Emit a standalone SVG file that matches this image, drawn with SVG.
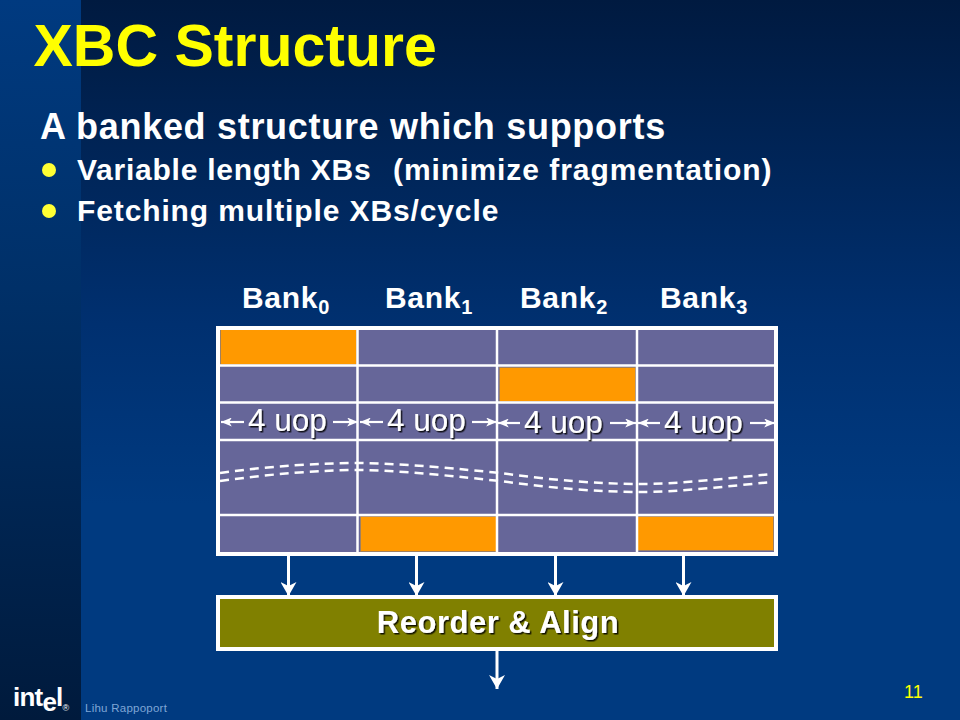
<svg xmlns="http://www.w3.org/2000/svg" width="960" height="720" viewBox="0 0 960 720">
<style>
text{font-family:"Liberation Sans",Arial,sans-serif}
.b{font-weight:bold;fill:#fff}
.cell{fill:#666699}
.org{fill:#ff9900;stroke:#a08060;stroke-width:1}
.grid{stroke:#fff;stroke-width:2.5;fill:none}
.arr{stroke:#fff;stroke-width:3;fill:none}
.thin{stroke:#fff;stroke-width:2.200;fill:none}
.dash{stroke:#fff;stroke-width:2.500;fill:none;stroke-dasharray:9 6}
.sh{filter:url(#shadow)}
.u{font-size:31.500px;fill:#fff}
.bk{font-size:30px;letter-spacing:.7px}
.bk tspan{font-size:20px}
</style>
<defs>
<linearGradient id="bg" x1="0" y1="0" x2="0" y2="1">
<stop offset="0" stop-color="#001a40"/><stop offset="0.45" stop-color="#003070"/><stop offset="0.7" stop-color="#003a80"/><stop offset="1" stop-color="#003a80"/>
</linearGradient>
<linearGradient id="side" x1="0" y1="0" x2="0" y2="1">
<stop offset="0" stop-color="#003a80"/><stop offset="0.4" stop-color="#003068"/><stop offset="1" stop-color="#001a3c"/>
</linearGradient>
<filter id="shadow" x="-10%" y="-20%" width="125%" height="150%">
<feDropShadow dx="1.5" dy="1.5" stdDeviation="0.6" flood-color="#000" flood-opacity="0.85"/>
</filter>
<marker id="ah" viewBox="0 0 14 16" refX="14" refY="8" markerWidth="14" markerHeight="16" markerUnits="userSpaceOnUse" orient="auto">
<path d="M0 0L14 8L0 16L4 8Z" fill="#fff"/>
</marker>
<marker id="as" viewBox="0 0 12 10" refX="12" refY="5" markerWidth="11" markerHeight="9" markerUnits="userSpaceOnUse" orient="auto">
<path d="M0 0L12 5L0 10L3 5Z" fill="#fff"/>
</marker>
</defs>
<rect width="960" height="720" fill="url(#bg)"/>
<rect width="81" height="720" fill="url(#side)"/>

<g id="title"><text x="33.500" y="66" font-size="59" font-weight="bold" fill="#ffff00">XBC Structure</text></g>
<g id="body">
<text class="b" x="40" y="139" font-size="36" letter-spacing=".7">A banked structure which supports</text>
<circle cx="49" cy="170" r="7" fill="#ffff33"/>
<text class="b" x="77" y="180" font-size="30" letter-spacing=".75">Variable length XBs</text>
<text class="b" x="393" y="180" font-size="30" letter-spacing=".95">(minimize fragmentation)</text>
<circle cx="49" cy="211" r="7" fill="#ffff33"/>
<text class="b" x="77" y="221" font-size="30" letter-spacing=".88">Fetching multiple XBs/cycle</text>
</g>

<g id="bank-labels">
<text class="b bk" x="242" y="308">Bank<tspan dy="6">0</tspan></text>
<text class="b bk" x="385" y="308">Bank<tspan dy="6">1</tspan></text>
<text class="b bk" x="520" y="308">Bank<tspan dy="6">2</tspan></text>
<text class="b bk" x="660" y="308">Bank<tspan dy="6">3</tspan></text>
</g>

<g id="bank-array">
<rect class="cell" x="218" y="328" width="558" height="226"/>
<rect class="org" x="220.500" y="329.500" width="136" height="35"/>
<rect class="org" x="499.500" y="367.500" width="136" height="34"/>
<rect class="org" x="360.500" y="516.500" width="136" height="35"/>
<rect class="org" x="637.500" y="516.500" width="136" height="34"/>
<path class="grid" d="M218 365.500H776M218 402.500H776M218 440H776M218 515H776M357.500 328V554M497 328V554M637 328V554"/>
<rect x="218" y="328" width="558" height="226" fill="none" stroke="#fff" stroke-width="4"/>
</g>

<g id="uop-labels">
<text class="u sh" x="248" y="431">4 uop</text>
<text class="u sh" x="387" y="431">4 uop</text>
<text class="u sh" x="524" y="433">4 uop</text>
<text class="u sh" x="664" y="433">4 uop</text>
</g>

<g id="connectors">
<path class="thin" marker-end="url(#as)" d="M244 422H221"/>
<path class="thin" marker-end="url(#as)" d="M333 422H358"/>
<path class="thin" marker-end="url(#as)" d="M383 422H360"/>
<path class="thin" marker-end="url(#as)" d="M472 422H497"/>
<path class="thin" marker-end="url(#as)" d="M520 423H498"/>
<path class="thin" marker-end="url(#as)" d="M610 423H636"/>
<path class="thin" marker-end="url(#as)" d="M660 423H638"/>
<path class="thin" marker-end="url(#as)" d="M750 423H775"/>
<path class="dash" d="M220 473C270 466 320 463 360 463C410 464 460 469 500 473C550 480 600 484 640 484C680 484 730 478 772 474"/>
<path class="dash" d="M220 481C270 474 320 470 360 470C410 471 460 477 500 481C550 488 600 492 640 492C680 492 730 486 772 482"/>
<path class="arr" marker-end="url(#ah)" d="M288.500 556V596"/>
<path class="arr" marker-end="url(#ah)" d="M416.500 556V596"/>
<path class="arr" marker-end="url(#ah)" d="M555.500 556V596"/>
<path class="arr" marker-end="url(#ah)" d="M683.500 556V596"/>
<path class="arr" marker-end="url(#ah)" d="M497 649V689"/>
</g>

<g id="reorder">
<rect x="218" y="597" width="558" height="52" fill="#808000" stroke="#fff" stroke-width="4"/>
<text class="b sh" x="498" y="633" font-size="31" letter-spacing=".5" text-anchor="middle">Reorder &amp; Align</text>
</g>

<g id="footer">
<text x="13" y="706" font-size="26" font-weight="bold" fill="#fff" letter-spacing="-.8">int<tspan dy="5">e</tspan><tspan dy="-5">l</tspan></text>
<text x="62.500" y="711" font-size="9" fill="#fff">®</text>
<text x="85" y="712" font-size="11.500" letter-spacing=".25" fill="#7fa6d6">Lihu Rappoport</text>
<text x="904" y="698" font-size="18" fill="#ffff00">11</text>
</g>
</svg>
